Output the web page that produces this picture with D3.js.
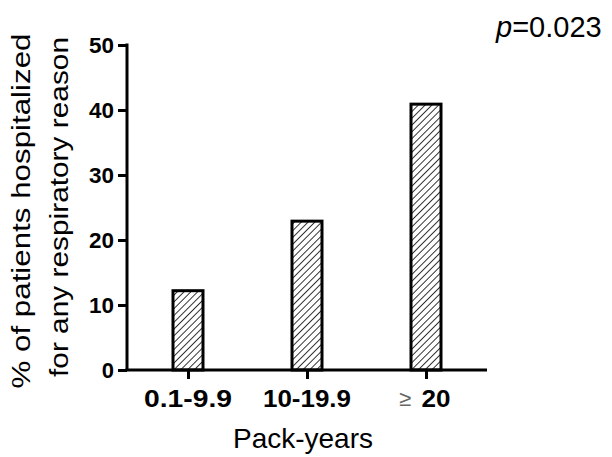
<!DOCTYPE html>
<html><head><meta charset="utf-8">
<script src="https://cdn.jsdelivr.net/npm/d3@7"></script>
<style>body{margin:0;background:#fff}svg{display:block}text{font-family:Arial,"Liberation Sans",sans-serif}</style>
</head><body>
<script>
const categories = ["0.1-9.9", "10-19.9", "20"];
const values = [12.2, 22.9, 40.9];
const yTicks = [0, 10, 20, 30, 40, 50];

const W = 612, H = 457;
const svg = d3.select("body").append("svg").attr("width", W).attr("height", H);
const defs = svg.append("defs");
const P = 4.8;
const pat = defs.append("pattern").attr("id","hatch").attr("patternUnits","userSpaceOnUse")
  .attr("width",P).attr("height",P).attr("patternTransform","rotate(45)");
pat.append("rect").attr("width",P).attr("height",P).attr("fill","#fff");
pat.append("line").attr("x1",0).attr("y1",0).attr("x2",0).attr("y2",P).attr("stroke","#111").attr("stroke-width",1.7);

const x0 = 127, x1 = 487, yTop = 45, yBot = 370;
const xc = d3.scalePoint().domain(categories).range([188, 426]);
const y = d3.scaleLinear().domain([0, 50]).range([yBot, yTop]);
const bw = 30;

// bars
svg.selectAll("rect.bar").data(values).enter().append("rect")
  .attr("class","bar")
  .attr("x", (d,i) => xc(categories[i]) - bw/2)
  .attr("y", d => y(d))
  .attr("width", bw)
  .attr("height", d => yBot - y(d))
  .attr("fill", "url(#hatch)")
  .attr("stroke", "#000").attr("stroke-width", 3);

// y axis
const ya = svg.append("g").attr("transform", `translate(${x0},0)`)
  .call(d3.axisLeft(y).tickValues(yTicks).tickSize(9).tickPadding(4).tickFormat(d3.format("d")));
ya.select(".domain").attr("stroke-width", 3).attr("d", `M0,${yTop-1.5}V${yBot}`);
ya.selectAll(".tick line").attr("stroke-width", 3);
ya.selectAll(".tick text").attr("font-size", 22).attr("font-weight", "bold").attr("fill","#000")
  .attr("font-family","Arial,'Liberation Sans',sans-serif")
  .attr("dy", "0.36em")
  .each(function(d){ if (String(d).length === 2) d3.select(this).attr("textLength", 25).attr("lengthAdjust","spacingAndGlyphs"); });

// x axis
const xa = svg.append("g").attr("transform", `translate(0,${yBot})`)
  .call(d3.axisBottom(xc).tickSize(9).tickFormat(() => ""));
xa.select(".domain").attr("stroke-width", 3).attr("d", `M${x0-1.5},0H${x1}`);
xa.selectAll(".tick line").attr("stroke-width", 3);
xa.selectAll(".tick text").remove();
categories.forEach((c, i) => {
  if (i === 2) {
    svg.append("text").attr("x", 405).attr("y", 406).attr("text-anchor","middle")
      .attr("font-size", 22).attr("fill","#666").text("\u2265");
    svg.append("text").attr("x", 436).attr("y", 407).attr("text-anchor","middle")
      .attr("font-size", 24).attr("font-weight","bold")
      .attr("textLength", 29).attr("lengthAdjust","spacingAndGlyphs").text(c);
  } else {
    svg.append("text").attr("x", xc(c)).attr("y", 407).attr("text-anchor","middle")
      .attr("font-size", 24).attr("font-weight","bold")
      .attr("textLength", 88).attr("lengthAdjust","spacingAndGlyphs").text(c);
  }
});

// axis titles
svg.append("text").attr("x", 303).attr("y", 448).attr("text-anchor","middle").attr("font-size", 28).text("Pack-years");
svg.append("text").attr("transform", `translate(30,211) rotate(-90)`)
  .attr("text-anchor","middle").attr("font-size", 26)
  .attr("textLength", 355).attr("lengthAdjust","spacingAndGlyphs")
  .text("% of patients hospitalized");
svg.append("text").attr("transform", `translate(68,207) rotate(-90)`)
  .attr("text-anchor","middle").attr("font-size", 26)
  .attr("textLength", 340).attr("lengthAdjust","spacingAndGlyphs")
  .text("for any respiratory reason");

// p value
const pt = svg.append("text").attr("x", 496).attr("y", 37).attr("font-size", 29);
pt.append("tspan").attr("font-style","italic").text("p");
pt.append("tspan").text("=0.023");
</script>
</body></html>
